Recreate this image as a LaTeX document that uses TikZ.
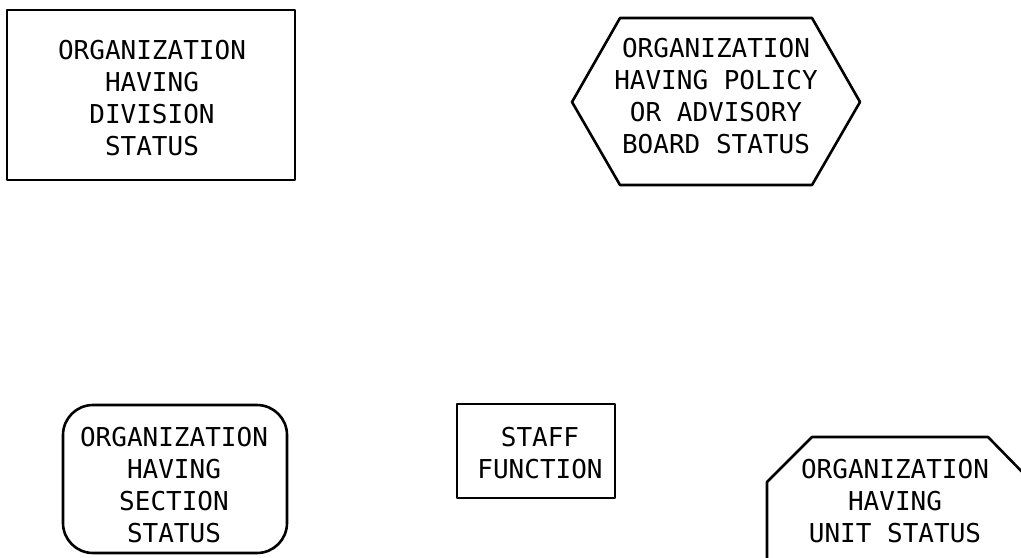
\documentclass[tikz,border=0pt]{standalone}
\usepackage{fontspec}
\newfontfamily\chartfont{DejaVu Sans Mono}
\begin{document}
\begin{tikzpicture}[x=0.5pt,y=-0.5pt,
  outline/.style={line width=1.3pt,line join=round},
  lbl/.style={font=\chartfont\fontsize{13}{16}\selectfont,align=center,inner sep=0pt}]
\useasboundingbox (0,0) rectangle (1021,557);
% division
\draw[outline] (7,10) rectangle (295,180);
\node[lbl] (division) at (152,98) {ORGANIZATION\\HAVING\\DIVISION\\STATUS};
% policy or advisory board
\draw[outline] (572,102)--(620,18)--(812,18)--(860,102)--(812,185)--(620,185)--cycle;
\node[lbl] (board) at (716,96) {ORGANIZATION\\HAVING POLICY\\OR ADVISORY\\BOARD STATUS};
% section
\draw[outline,rounded corners=15pt] (63,405) rectangle (287,553);
\node[lbl] (section) at (174,485) {ORGANIZATION\\HAVING\\SECTION\\STATUS};
% staff
\draw[outline] (457,404) rectangle (615,498);
\node[lbl] (staff) at (540,453) {STAFF\\FUNCTION};
% unit, runs off the page
\begin{scope}
\clip (0,0) rectangle (1021,557);
\draw[outline] (767,575)--(767,482)--(812,437)--(988,437)--(1032,482)--(1032,575);
\end{scope}
\node[lbl] (unit) at (895,501) {ORGANIZATION\\HAVING\\UNIT STATUS};
\end{tikzpicture}
\end{document}
